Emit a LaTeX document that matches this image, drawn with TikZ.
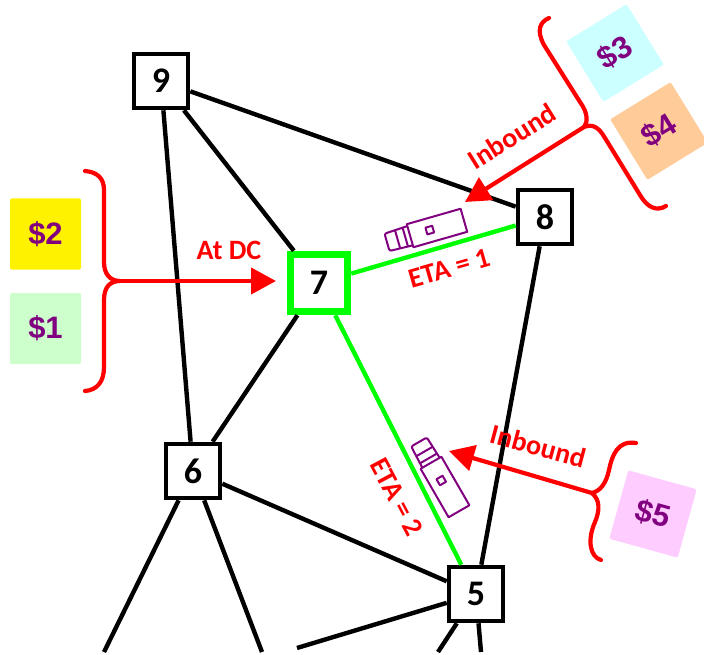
\documentclass[tikz,border=0pt]{standalone}
\usepackage{fontspec}
\setmainfont{Carlito}
\setsansfont{Liberation Sans}
\usetikzlibrary{arrows.meta}
\definecolor{pricepurple}{HTML}{800080}
\definecolor{etagreen}{HTML}{00FF00}
\definecolor{pricegreen}{HTML}{CCFFCC}
\definecolor{pricecyan}{HTML}{CCFFFF}
\definecolor{priceorange}{HTML}{FFCC99}
\definecolor{pricepink}{HTML}{FFCCFF}
\begin{document}
\begin{tikzpicture}[x=1pt,y=-1pt,>={Triangle[length=25pt,width=26pt]},
    town/.style={draw=black,fill=white,line width=4.6pt,minimum size=54pt,inner sep=0pt,
      font=\bfseries\fontsize{36}{36}\selectfont},
    price/.style={minimum size=71pt,inner sep=0pt,rounded corners=1.5pt,text=pricepurple,
      font=\sffamily\bfseries\fontsize{31}{31}\selectfont},
    note/.style={text=red,inner sep=0pt,font=\bfseries\fontsize{28}{28}\selectfont},
    road/.style={black,line width=4.4pt},
    route/.style={etagreen,line width=4.4pt},
    brace/.style={red,line width=4.2pt,line cap=round},
    truck/.style={pricepurple,line width=2pt,line join=round}]
    \useasboundingbox (0,0) rectangle (704,655);

    \node[town] (n9) at (161,81) {9};
    \node[town] (n8) at (545,217) {8};
    \node[town,draw=etagreen,line width=7.5pt,minimum size=57pt] (n7) at (319,283) {7};
    \node[town] (n6) at (193,471) {6};
    \node[town] (n5) at (476,594) {5};

    \coordinate (c1) at (104,652);
    \coordinate (c2) at (262,652);
    \coordinate (c3) at (297,648);
    \coordinate (c4) at (438,652);
    \coordinate (c5) at (481,652);

    \foreach \a/\b in {n9/n8,n9/n7,n9/n6,n7/n6,n8/n5,n6/n5,n6/c1,n6/c2,n5/c3,n5/c4,n5/c5}
      \draw[road] (\a) -- (\b);
    \draw[route] (n7) -- (n8);
    \draw[route] (n7) -- (n5);

    \node[price,fill=yellow] (p2) at (45.5,234) {\$2};
    \node[price,fill=pricegreen] (p1) at (45.5,328.5) {\$1};
    \node[price,fill=pricecyan,rotate=31.6] (p3) at (615,53) {\$3};
    \node[price,fill=priceorange,rotate=31.6] (p4) at (659,131) {\$4};
    \node[price,fill=pricepink,rotate=-15.5] (p5) at (653,514) {\$5};

    \coordinate (dc) at (120,281);
    \coordinate (in1) at (584,127);
    \coordinate (in2) at (592,493);
    \coordinate (t7) at (276,281);
    \coordinate (t8) at (465,202);
    \coordinate (tv) at (449,451);

    \draw[brace] (85,171) .. controls (97,172) and (104,178) .. (104,190) -- (104,262)
      .. controls (104,274) and (110,281) .. (dc)
      .. controls (110,281) and (104,287) .. (104,300) -- (104,367)
      .. controls (104,382) and (97,390) .. (85,391);
    \draw[brace] (549,18) .. controls (540,22) and (536,30) .. (544,45) -- (580,102)
      .. controls (588,113) and (588,122) .. (in1)
      .. controls (592,124) and (598,126) .. (605,138) -- (640,195)
      .. controls (647,207) and (656,212) .. (666,206);
    \draw[brace] (636,443) .. controls (618,440) and (612,455) .. (609,470)
      .. controls (606,484) and (600,491) .. (in2)
      .. controls (600,500) and (600,510) .. (595,522)
      .. controls (587,540) and (590,557) .. (601,560);

    \draw[->,brace,line cap=butt] (dc) -- (t7);
    \draw[->,brace,line cap=butt] (in1) -- (t8);
    \draw[->,brace,line cap=butt] (in2) -- (tv);

    \begin{scope}[shift={(437,228)},rotate=16]
      \draw[truck] (-28,-12) rectangle (28,12);
      \draw[truck] (-11,-3.5) rectangle (-4,3.5);
      \draw[truck,rounded corners=2pt] (-28,-10) -- (-52,-9) -- (-52,9) -- (-28,10);
      \draw[truck] (-41,-9.5) -- (-41,9.5);
      \draw[truck] (-33,-10) -- (-33,10);
    \end{scope}
    \begin{scope}[shift={(445,487)},rotate=-60]
      \draw[truck] (-28,-12) rectangle (28,12);
      \draw[truck] (-11,-3.5) rectangle (-4,3.5);
      \draw[truck,rounded corners=2pt] (-28,-10) -- (-52,-9) -- (-52,9) -- (-28,10);
      \draw[truck] (-41,-9.5) -- (-41,9.5);
      \draw[truck] (-33,-10) -- (-33,10);
    \end{scope}

    \node[note] (dcnote) at (229,250) {At DC};
    \node[note,rotate=32] (note8) at (512,136) {Inbound};
    \node[note,rotate=-15] (note5) at (538,446) {Inbound};
    \node[note,rotate=16] (eta1) at (449,268) {ETA = 1};
    \node[note,rotate=-62] (eta2) at (397,497) {ETA = 2};
\end{tikzpicture}
\end{document}
